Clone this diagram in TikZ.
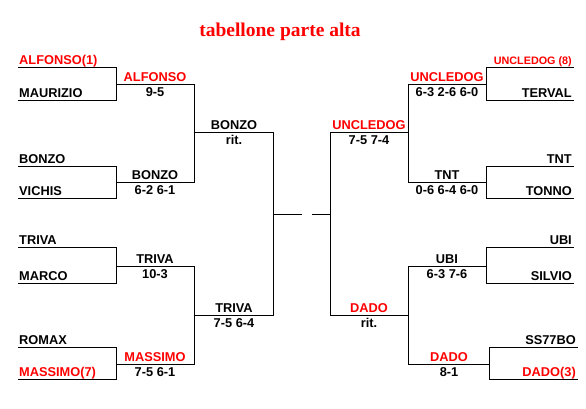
\documentclass[tikz,border=0pt]{standalone}
\usepackage{fontspec}
\setmainfont{Liberation Sans}
\newfontfamily\titlefont{Liberation Serif}
\definecolor{winred}{RGB}{255,0,0}
\begin{document}
\begin{tikzpicture}[x=1pt,y=-1pt,
  line/.style={line width=1pt,line cap=rect},
  blk/.style={inner sep=0pt,font=\fontsize{12.8}{14}\selectfont\bfseries},
  red/.style={inner sep=0pt,font=\fontsize{12.8}{14}\selectfont\bfseries,text=winred},
  redsm/.style={inner sep=0pt,font=\fontsize{10.8}{13}\selectfont\bfseries,text=winred},
  lname/.style={anchor=base west},
  rname/.style={anchor=base east},
  cname/.style={anchor=base}]
\useasboundingbox (0,0) rectangle (586,409);
% title
\node[anchor=base,inner sep=0pt,text=winred,font=\titlefont\fontsize{19.5}{22}\selectfont\bfseries] (title) at (280,37) {tabellone parte alta};
% ---------- coordinates, left half ----------
\coordinate (L1a) at (18,68);  \coordinate (L1b) at (116,68);
\coordinate (L2a) at (18,101); \coordinate (L2b) at (116,101);
\coordinate (L3a) at (18,166); \coordinate (L3b) at (116,166);
\coordinate (L4a) at (18,198); \coordinate (L4b) at (116,198);
\coordinate (L5a) at (18,247); \coordinate (L5b) at (116,247);
\coordinate (L6a) at (18,283); \coordinate (L6b) at (116,283);
\coordinate (L7a) at (18,347); \coordinate (L7b) at (116,347);
\coordinate (L8a) at (18,379); \coordinate (L8b) at (116,379);
\coordinate (M1a) at (116,85);  \coordinate (M1b) at (194,85);
\coordinate (M2a) at (116,182); \coordinate (M2b) at (194,182);
\coordinate (M3a) at (116,266); \coordinate (M3b) at (194,266);
\coordinate (M4a) at (116,364); \coordinate (M4b) at (194,364);
\coordinate (S1a) at (194,133); \coordinate (S1b) at (273,133);
\coordinate (S2a) at (194,315); \coordinate (S2b) at (273,315);
\coordinate (FLa) at (273,214); \coordinate (FLb) at (301,214);
% ---------- coordinates, right half ----------
\coordinate (FRa) at (312,214); \coordinate (FRb) at (330,214);
\coordinate (T1a) at (330,133); \coordinate (T1b) at (408,133);
\coordinate (T2a) at (330,315); \coordinate (T2b) at (408,315);
\coordinate (N1a) at (408,85);  \coordinate (N1b) at (486,85);
\coordinate (N2a) at (408,182); \coordinate (N2b) at (486,182);
\coordinate (N3a) at (408,266); \coordinate (N3b) at (486,266);
\coordinate (N4a) at (408,364); \coordinate (N4b) at (489,364);
\coordinate (R1a) at (486,68);  \coordinate (R1b) at (573,68);
\coordinate (R2a) at (486,101); \coordinate (R2b) at (573,101);
\coordinate (R3a) at (486,166); \coordinate (R3b) at (573,166);
\coordinate (R4a) at (486,198); \coordinate (R4b) at (573,198);
\coordinate (R5a) at (486,247); \coordinate (R5b) at (573,247);
\coordinate (R6a) at (486,283); \coordinate (R6b) at (573,283);
\coordinate (R7a) at (489,347); \coordinate (R7b) at (577,347);
\coordinate (R8a) at (489,379); \coordinate (R8b) at (577,379);
% ---------- brackets ----------
\draw[line] (L1a) -- (L1b) -- (L2b) -- (L2a);
\draw[line] (L3a) -- (L3b) -- (L4b) -- (L4a);
\draw[line] (L5a) -- (L5b) -- (L6b) -- (L6a);
\draw[line] (L7a) -- (L7b) -- (L8b) -- (L8a);
\draw[line] (M1a) -- (M1b) -- (M2b) -- (M2a);
\draw[line] (M3a) -- (M3b) -- (M4b) -- (M4a);
\draw[line] (S1a) -- (S1b) -- (S2b) -- (S2a);
\draw[line] (FLa) -- (FLb);
\draw[line] (FRa) -- (FRb);
\draw[line] (T1b) -- (T1a) -- (T2a) -- (T2b);
\draw[line] (N1b) -- (N1a) -- (N2a) -- (N2b);
\draw[line] (N3b) -- (N3a) -- (N4a) -- (N4b);
\draw[line] (R1b) -- (R1a) -- (R2a) -- (R2b);
\draw[line] (R3b) -- (R3a) -- (R4a) -- (R4b);
\draw[line] (R5b) -- (R5a) -- (R6a) -- (R6b);
\draw[line] (R7b) -- (R7a) -- (R8a) -- (R8b);
% ---------- left first round ----------
\node[red,lname] (p1) at (19,65) {ALFONSO(1)};
\node[blk,lname] (p2) at (19,98) {MAURIZIO};
\node[blk,lname] (p3) at (19,163) {BONZO};
\node[blk,lname] (p4) at (19,195) {VICHIS};
\node[blk,lname] (p5) at (19,244) {TRIVA};
\node[blk,lname] (p6) at (19,280) {MARCO};
\node[blk,lname] (p7) at (19,344) {ROMAX};
\node[red,lname] (p8) at (19,376) {MASSIMO(7)};
% ---------- left second round ----------
\node[red,cname] (w1) at (155,82) {ALFONSO};
\node[blk,cname] (s1) at (155,97) {9-5};
\node[blk,cname] (w2) at (155,179) {BONZO};
\node[blk,cname] (s2) at (155,194) {6-2 6-1};
\node[blk,cname] (w3) at (155,263) {TRIVA};
\node[blk,cname] (s3) at (155,278) {10-3};
\node[red,cname] (w4) at (155,361) {MASSIMO};
\node[blk,cname] (s4) at (155,376) {7-5 6-1};
% ---------- left semifinal ----------
\node[blk,cname] (v1) at (234,130) {BONZO};
\node[blk,cname] (r1) at (234,145) {rit.};
\node[blk,cname] (v2) at (234,312) {TRIVA};
\node[blk,cname] (r2) at (234,327) {7-5 6-4};
% ---------- right semifinal ----------
\node[red,cname] (v3) at (369,130) {UNCLEDOG};
\node[blk,cname] (r3) at (369,145) {7-5 7-4};
\node[red,cname] (v4) at (369,312) {DADO};
\node[blk,cname] (r4) at (369,327) {rit.};
% ---------- right second round ----------
\node[red,cname] (w5) at (447,82) {UNCLEDOG};
\node[blk,cname] (s5) at (447,97) {6-3 2-6 6-0};
\node[blk,cname] (w6) at (447,179) {TNT};
\node[blk,cname] (s6) at (447,194) {0-6 6-4 6-0};
\node[blk,cname] (w7) at (447,263) {UBI};
\node[blk,cname] (s7) at (447,278) {6-3 7-6};
\node[red,cname] (w8) at (449,361) {DADO};
\node[blk,cname] (s8) at (449,376) {8-1};
% ---------- right first round ----------
\node[redsm,rname] (q1) at (572,65) {UNCLEDOG (8)};
\node[blk,rname] (q2) at (572,98) {TERVAL};
\node[blk,rname] (q3) at (572,163) {TNT};
\node[blk,rname] (q4) at (572,195) {TONNO};
\node[blk,rname] (q5) at (572,244) {UBI};
\node[blk,rname] (q6) at (572,280) {SILVIO};
\node[blk,rname] (q7) at (576,344) {SS77BO};
\node[red,rname] (q8) at (576,376) {DADO(3)};
\end{tikzpicture}
\end{document}
